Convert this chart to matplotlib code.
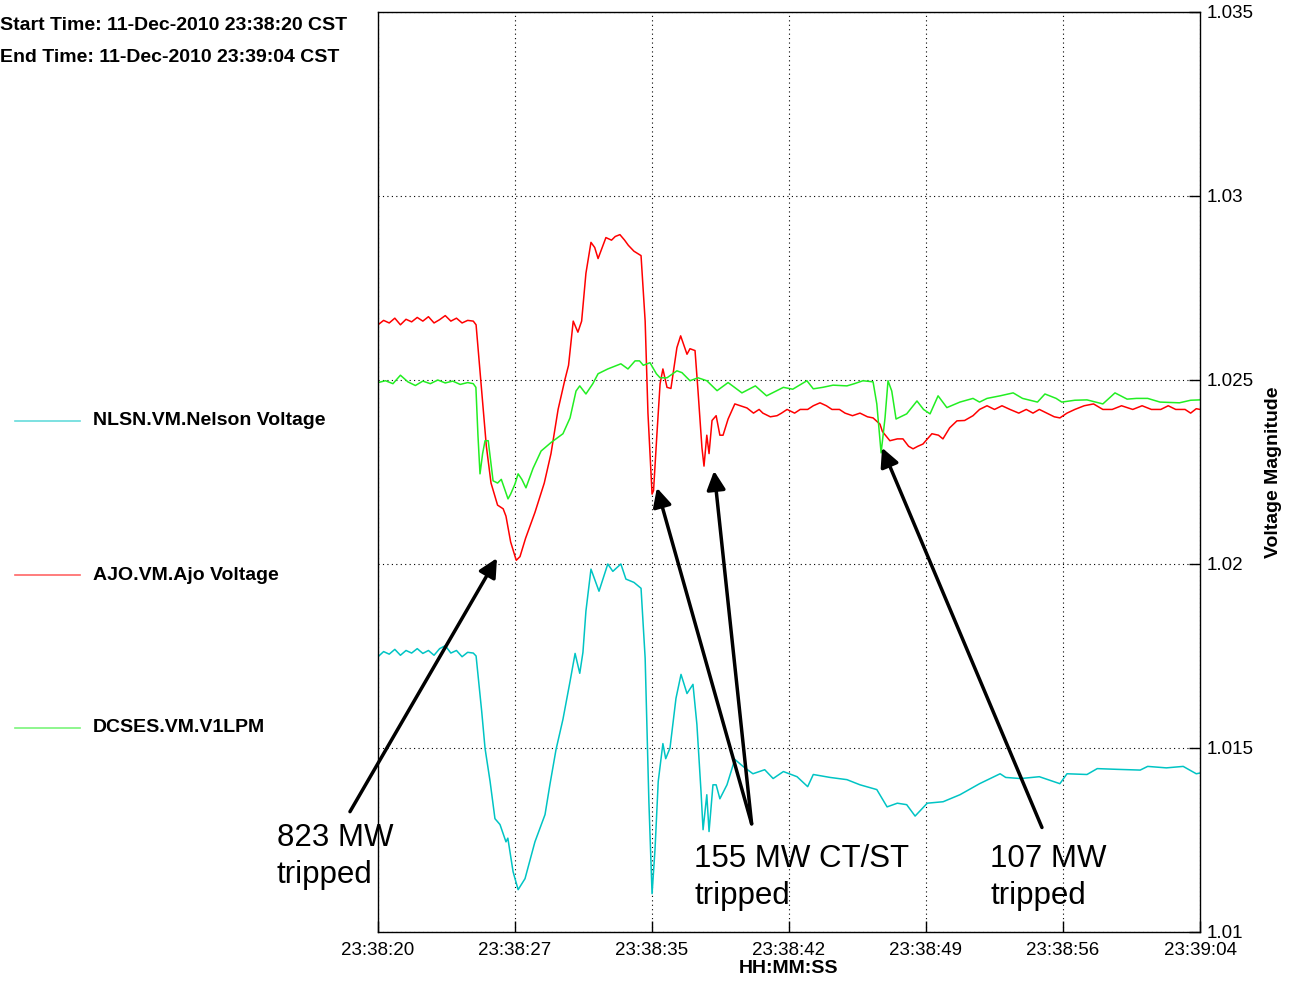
import matplotlib; matplotlib.use("Agg")
import matplotlib.pyplot as plt
from matplotlib.lines import Line2D

plt.rcParams['font.family'] = ['Liberation Sans', 'DejaVu Sans']

# seconds after 23:38:20 and per-unit voltage
ajo_t = [0.0, 0.3, 0.6, 0.9, 1.2, 1.5, 1.8, 2.1, 2.4, 2.7, 3.0, 3.3, 3.6, 3.9, 4.2, 4.5, 4.8, 5.1, 5.25,
         5.5, 5.8, 6.05, 6.4, 6.7, 6.85, 7.1, 7.4, 7.6, 7.9, 8.4, 8.9, 9.26, 9.64, 10.0, 10.2, 10.45, 10.7,
         10.9, 11.13, 11.4, 11.6, 11.78, 12.0, 12.2, 12.5, 12.7, 12.95, 13.2, 13.4, 13.7, 14.08, 14.3, 14.45,
         14.67, 14.75, 14.93, 15.1, 15.25, 15.47, 15.68, 16.0, 16.2, 16.54, 16.7, 16.97, 17.13, 17.34, 17.45,
         17.6, 17.72, 17.88, 18.1, 18.3, 18.47, 18.74, 19.1, 19.4, 19.75, 20.1, 20.4, 20.6, 21.0, 21.36, 21.6,
         21.9, 22.3, 22.6, 23.0, 23.3, 23.66, 24.0, 24.3, 24.7, 25.0, 25.4, 25.8, 26.2, 26.5, 26.87, 27.0,
         27.4, 27.8, 28.1, 28.4, 28.64, 28.9, 29.17, 29.65, 30.0, 30.24, 30.6, 30.99, 31.4, 31.85, 32.2, 32.6,
         33.0, 33.4, 33.83, 34.3, 34.7, 35.06, 35.4, 35.8, 36.2, 36.5, 36.88, 37.3, 37.8, 38.3, 38.8, 39.3,
         39.8, 40.4, 40.9, 41.4, 41.9, 42.3, 42.7, 43.2, 43.5, 43.8, 44.0]
ajo_v = [1.02650, 1.02662, 1.02655, 1.02668, 1.02650, 1.02665, 1.02658, 1.02670, 1.02660, 1.02672, 1.02655,
         1.02664, 1.02675, 1.02660, 1.02668, 1.02655, 1.02662, 1.02660, 1.02650,
         1.0250, 1.0232, 1.0222, 1.0216, 1.0215, 1.0213, 1.0206, 1.0201, 1.0202, 1.0207, 1.0214, 1.0222,
         1.0230, 1.0242, 1.0250, 1.0254, 1.0266, 1.0263, 1.0266, 1.0279, 1.02874, 1.0286, 1.0283, 1.0286,
         1.02887, 1.0288, 1.0289, 1.02895, 1.0288, 1.02866, 1.0285, 1.02838, 1.0266, 1.0241,
         1.0219, 1.0220, 1.02353, 1.0249, 1.0253, 1.0248, 1.02477, 1.02588, 1.0262, 1.0257, 1.02585, 1.0258,
         1.0247, 1.02316, 1.02266, 1.0235, 1.0230, 1.0239, 1.02403, 1.0235, 1.0235, 1.02394, 1.02435, 1.0243,
         1.02424, 1.0241, 1.0242, 1.0241, 1.0240, 1.02403, 1.0241, 1.0242, 1.0241, 1.0242, 1.0242, 1.0243,
         1.02438, 1.0243, 1.0242, 1.0242, 1.0241, 1.02403, 1.0241, 1.0240, 1.02397, 1.0238, 1.0236,
         1.02335, 1.0234, 1.0234, 1.0232, 1.02313, 1.0232, 1.02326, 1.02354, 1.0235, 1.0234, 1.0237, 1.02389,
         1.0239, 1.02403, 1.0242, 1.0243, 1.0242, 1.0243, 1.0242, 1.0241, 1.0242, 1.0241, 1.0242, 1.0241,
         1.0240, 1.02397, 1.0241, 1.0242, 1.0243, 1.02435, 1.0242, 1.0242, 1.0243, 1.0242, 1.0243, 1.0242,
         1.0242, 1.0243, 1.0242, 1.0242, 1.0241, 1.02422, 1.0242]

dcses_t = [0.0, 0.4, 0.8, 1.2, 1.6, 2.0, 2.4, 2.8, 3.2, 3.6, 4.0, 4.4, 4.8, 5.1, 5.24, 5.35, 5.46, 5.6, 5.73,
           5.9, 6.16, 6.4, 6.6, 6.96, 7.1, 7.33, 7.5, 7.7, 7.92, 8.3, 8.73, 9.26, 9.9, 10.28, 10.6, 10.8,
           11.13, 11.5, 11.78, 12.3, 13.0, 13.38, 13.76, 14.0, 14.2, 14.56, 14.9, 15.1, 15.47, 16.0, 16.27,
           16.7, 17.13, 17.6, 18.15, 18.74, 19.48, 20.2, 20.8, 21.7, 22.2, 22.96, 23.3, 23.8, 24.36, 25.1,
           25.5, 25.96, 26.5, 26.7, 26.93, 27.14, 27.3, 27.5, 27.73, 28.3, 28.85, 29.2, 29.55, 29.98, 30.45,
           31.15, 31.85, 32.2, 32.6, 33.3, 34.0, 34.5, 35.3, 35.7, 36.3, 36.6, 37.3, 37.95, 38.8, 39.45, 40.1,
           40.6, 41.2, 41.86, 42.9, 43.5, 44.0]
dcses_v = [1.02493, 1.02498, 1.02490, 1.02513, 1.02495, 1.02485, 1.02497, 1.02490, 1.02500, 1.02492, 1.02497,
           1.02488, 1.02493, 1.0249, 1.0248, 1.0235, 1.02245, 1.0230, 1.02335, 1.02335, 1.02226, 1.0222,
           1.0223, 1.02177, 1.0219, 1.02217, 1.02245, 1.0223, 1.02207, 1.0226, 1.02307, 1.0233, 1.02354,
           1.02397, 1.0247, 1.02484, 1.02462, 1.0249, 1.02517, 1.0253, 1.02544, 1.0253, 1.02552, 1.02552,
           1.0254, 1.02547, 1.02517, 1.02506, 1.02506, 1.02525, 1.0252, 1.02498, 1.02506, 1.02498, 1.02471,
           1.02493, 1.02465, 1.02484, 1.02457, 1.0248, 1.02475, 1.02498, 1.02476, 1.0248, 1.02486, 1.02484,
           1.0249, 1.02498, 1.02495, 1.02435, 1.02302, 1.02397, 1.02498, 1.0247, 1.02394, 1.02408, 1.02443,
           1.0242, 1.02408, 1.02457, 1.02425, 1.0244, 1.0245, 1.0244, 1.0245, 1.02457, 1.02465, 1.0245,
           1.0244, 1.02462, 1.0245, 1.0244, 1.02445, 1.02446, 1.02435, 1.02465, 1.02448, 1.0245, 1.0245,
           1.0244, 1.02438, 1.02445, 1.02446]

nlsn_t = [0.0, 0.3, 0.6, 0.9, 1.2, 1.5, 1.8, 2.1, 2.4, 2.7, 3.0, 3.3, 3.6, 3.9, 4.2, 4.5, 4.8, 5.1, 5.25,
          5.35, 5.55, 5.73, 6.0, 6.26, 6.53, 6.85, 6.95, 7.23, 7.5, 7.87, 8.4, 8.94, 9.2, 9.53, 9.9, 10.28,
          10.55, 10.8, 10.97, 11.13, 11.4, 11.83, 12.3, 12.57, 13.0, 13.27, 13.7, 14.08, 14.3, 14.5, 14.67,
          14.83, 15.0, 15.25, 15.4, 15.63, 15.95, 16.22, 16.54, 16.86, 17.07, 17.29, 17.4, 17.6, 17.72, 17.93,
          18.1, 18.3, 18.68, 19.1, 19.54, 20.07, 20.7, 21.15, 21.7, 22.43, 23.0, 23.3, 24.2, 25.1, 25.8, 26.7,
          27.25, 27.8, 28.3, 28.75, 29.4, 30.25, 31.15, 32.2, 33.3, 33.6, 34.4, 35.4, 36.5, 36.88, 37.95,
          38.5, 39.56, 40.8, 41.2, 42.2, 43.1, 43.8, 44.0]
nlsn_v = [1.01748, 1.01762, 1.01755, 1.01768, 1.01752, 1.01765, 1.01758, 1.01770, 1.01757, 1.01765, 1.01752,
          1.01770, 1.01778, 1.01758, 1.01765, 1.01748, 1.01760, 1.01758, 1.0175,
          1.0170, 1.0160, 1.01499, 1.01409, 1.01308, 1.01292, 1.01245, 1.01255, 1.01164, 1.01115, 1.01145,
          1.01245, 1.01319, 1.01400, 1.01496, 1.01578, 1.01681, 1.01757, 1.01703, 1.0176, 1.01872, 1.01986,
          1.01926, 1.0200, 1.0198, 1.0200, 1.01959, 1.0195, 1.01934, 1.01744, 1.01354, 1.01104,
          1.01226, 1.01409, 1.01512, 1.01471, 1.0150, 1.01635, 1.0170, 1.01648, 1.01673, 1.01564, 1.01382,
          1.01278, 1.01373, 1.01273, 1.0140, 1.0140, 1.01362, 1.0140, 1.01469, 1.0145, 1.0143, 1.01441,
          1.01417, 1.01436, 1.01422, 1.01395, 1.01428, 1.0142, 1.01414, 1.0140, 1.01387, 1.0134, 1.0135,
          1.01346, 1.01315, 1.0135, 1.01354, 1.01373, 1.01403, 1.0143, 1.0142, 1.01417, 1.01422, 1.01403,
          1.0143, 1.01428, 1.01444, 1.01442, 1.0144, 1.0145, 1.01446, 1.0145, 1.0143, 1.01432]

x_ticks = [0, 44/6, 88/6, 22, 176/6, 220/6, 44]
x_labels = ['23:38:20', '23:38:27', '23:38:35', '23:38:42', '23:38:49', '23:38:56', '23:39:04']
y_ticks = [1.01, 1.015, 1.02, 1.025, 1.03, 1.035]
y_labels = ['1.01', '1.015', '1.02', '1.025', '1.03', '1.035']

names = ['NLSN.VM.Nelson Voltage', 'AJO.VM.Ajo Voltage', 'DCSES.VM.V1LPM']
colors = ['#00c4c4', '#ff0000', '#22ee22']

fig = plt.figure(figsize=(12.89, 9.83), dpi=100)
ax = fig.add_axes([378/1289, 51/983, 822/1289, 920/983])

ax.plot(nlsn_t, nlsn_v, color=colors[0], lw=1.1)
ax.plot(ajo_t, ajo_v, color=colors[1], lw=1.1)
ax.plot(dcses_t, dcses_v, color=colors[2], lw=1.1)

ax.set_xlim(0, 44); ax.set_ylim(1.01, 1.035)
ax.set_xticks(x_ticks); ax.set_xticklabels(x_labels)
ax.set_yticks(y_ticks); ax.set_yticklabels(y_labels)
ax.yaxis.tick_right(); ax.yaxis.set_label_position('right')
ax.tick_params(direction='in', length=8, width=1, labelsize=13.5, colors='black')
ax.tick_params(axis='x', pad=7); ax.tick_params(axis='y', pad=5)
ax.grid(True, color='black', linestyle=(0, (1, 3)), lw=0.8)
for s in ax.spines.values(): s.set_linewidth(1.0)
ax.set_xlabel('HH:MM:SS', fontsize=14, fontweight='bold', labelpad=1)
ax.set_ylabel('Voltage Magnitude', fontsize=14, fontweight='bold', labelpad=8)

# annotations: arrow tips on the dips, tails down at the labels
arr = dict(arrowstyle='-|>', color='black', lw=2.5, mutation_scale=28, shrinkA=0, shrinkB=0)
ax.annotate('', xy=(6.37, 1.02016), xytext=(-1.5, 1.01327), arrowprops=arr, annotation_clip=False)
ax.annotate('', xy=(14.93, 1.02207), xytext=(20.0, 1.01294), arrowprops=arr, annotation_clip=False)
ax.annotate('', xy=(17.99, 1.02253), xytext=(20.0, 1.01294), arrowprops=arr, annotation_clip=False)
ax.annotate('', xy=(26.98, 1.02316), xytext=(35.54, 1.01284), arrowprops=arr, annotation_clip=False)
ax.text(-5.41, 1.01296, '823 MW\ntripped', fontsize=22.5, va='top', ha='left', linespacing=1.3, clip_on=False)
ax.text(16.92, 1.01240, '155 MW CT/ST\ntripped', fontsize=22.5, va='top', ha='left', linespacing=1.3)
ax.text(32.76, 1.01240, '107 MW\ntripped', fontsize=22.5, va='top', ha='left', linespacing=1.3)

# header and left-side legend
fig.text(0.0, 1 - 25/983, 'Start Time: 11-Dec-2010 23:38:20 CST', fontsize=14, fontweight='bold', va='center')
fig.text(0.0, 1 - 57/983, 'End Time: 11-Dec-2010 23:39:04 CST', fontsize=14, fontweight='bold', va='center')
for name, c, py in zip(names, colors, [421, 575, 728]):
    y = 1 - py/983
    fig.add_artist(Line2D([15/1289, 80/1289], [y, y], color=c, lw=1.2, alpha=0.6))
    fig.text(93/1289, y, name, fontsize=14, fontweight='bold', va='center')

fig.savefig('out.png', dpi=100)
